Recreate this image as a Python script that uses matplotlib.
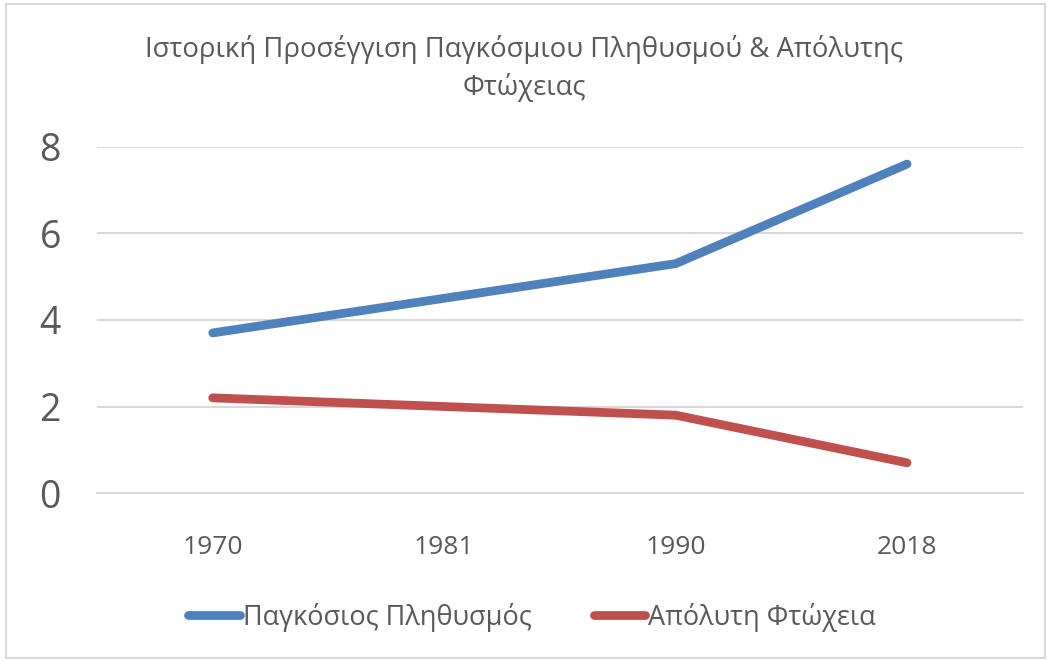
import matplotlib.pyplot as plt
import numpy as np
from matplotlib.patches import Rectangle

plt.rcParams['font.family'] = ['Open Sans', 'DejaVu Sans']

years = ['1970', '1981', '1990', '2018']
population = [3.7, 4.5, 5.3, 7.6]
poverty = [2.2, 2.0, 1.8, 0.7]

x = np.arange(len(years))

fig = plt.figure(figsize=(10.49, 6.61), dpi=100)
ax = fig.add_axes([0.0925, 0.254, 0.8825, 0.524])

ax.plot(x, population, color='#4F81BD', lw=6.3, solid_capstyle='round',
        solid_joinstyle='round', label='Παγκόσιος Πληθυσμός')
ax.plot(x, poverty, color='#C0504D', lw=6.3, solid_capstyle='round',
        solid_joinstyle='round', label='Απόλυτη Φτώχεια')

ax.set_xlim(-0.5, 3.5)
ax.set_ylim(0, 8)
ax.set_yticks([0, 2, 4, 6, 8])
ax.set_xticks(x)
ax.set_xticklabels(years)
ax.grid(axis='y', color='#D9D9D9', lw=1.5)
ax.set_axisbelow(True)
for s in ['top', 'right', 'left']:
    ax.spines[s].set_visible(False)
ax.spines['bottom'].set_color('#D9D9D9')
ax.spines['bottom'].set_linewidth(1.5)
ax.tick_params(axis='y', length=0, labelsize=27, labelcolor='#595959', pad=26)
ax.tick_params(axis='x', length=0, labelsize=19, labelcolor='#595959', pad=30)

fig.text(0.5, 0.896, 'Ιστορική Προσέγγιση Παγκόσμιου Πληθυσμού & Απόλυτης\nΦτώχειας',
         ha='center', va='center', fontsize=19.8, color='#595959', linespacing=1.42)

leg = fig.legend(loc='center', bbox_to_anchor=(0.507, 0.066), ncol=2, frameon=False,
                 fontsize=19.5, handlelength=1.9, handletextpad=0.1, columnspacing=2.3)
for t in leg.get_texts():
    t.set_color('#595959')

fig.patches.append(Rectangle((0.006, 0.004), 0.99, 0.99, transform=fig.transFigure,
                             fill=False, edgecolor='#D9D9D9', lw=1.5))

fig.savefig('out.png', dpi=100)
